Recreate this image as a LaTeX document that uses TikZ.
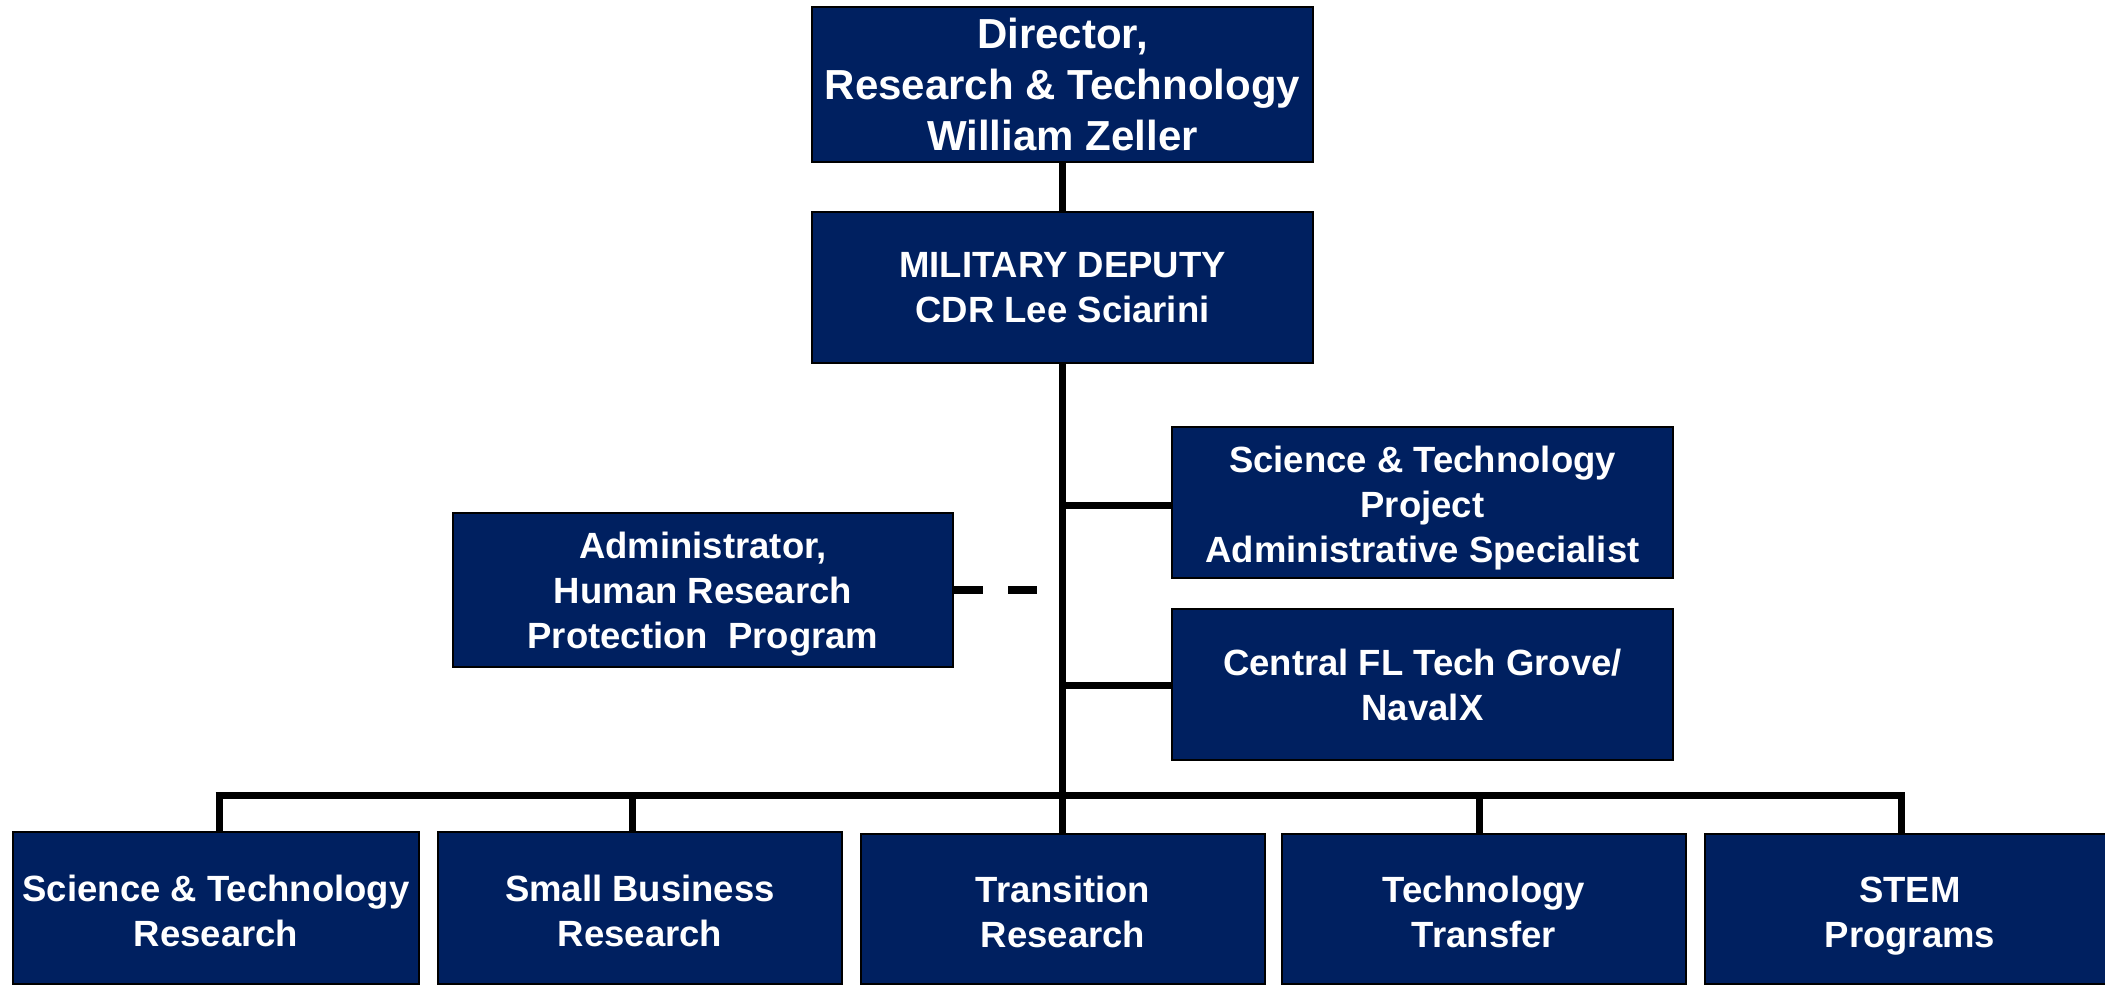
\documentclass[tikz,border=0pt]{standalone}
\usepackage{fontspec}
\setmainfont{Liberation Sans}
\definecolor{navybox}{RGB}{0,32,96}
\newcommand\firstup{\rule{0pt}{32pt}}
\begin{document}
\begin{tikzpicture}[x=1pt,y=-1pt,
  box/.style={rectangle, draw=black, line width=2.5pt, fill=navybox, text=white,
    align=center, inner sep=0pt, font=\bfseries\fontsize{36.5}{45}\selectfont},
  conn/.style={line width=7pt, draw=black}]
\clip (0,0) rectangle (2105,986);
\fill[white] (0,0) rectangle (2105,986);
% top chain
\node[box, minimum width=501pt, minimum height=155pt, font=\bfseries\fontsize{42}{51}\selectfont] (dir) at (1062.5,84.5) {Director,\\Research \& Technology\\William Zeller};
\node[box, minimum width=501pt, minimum height=151pt] (mil) at (1062.5,287.5) {MILITARY DEPUTY\\CDR Lee Sciarini};
\node[box, minimum width=501pt, minimum height=151pt] (stp) at (1422.5,502.5) {\rule{0pt}{29pt}Science \& Technology\\Project\\\smash{Administrative Specialist}};
\node[box, minimum width=501pt, minimum height=151pt] (cfl) at (1422.5,684.5) {Central FL Tech Grove/\\NavalX};
\node[box, minimum width=500pt, minimum height=154pt] (adm) at (703,590) {Administrator,\\Human Research\\\smash{Protection\ \ Program}};
% bottom row
\node[box, minimum width=406pt, minimum height=152pt] (b1) at (216,908) {\firstup Science \& Technology\\Research};
\node[box, minimum width=404pt, minimum height=152pt] (b2) at (640,908) {\firstup Small Business\\Research};
\node[box, minimum width=404pt, minimum height=150pt] (b3) at (1063,909) {\firstup Transition\\Research};
\node[box, minimum width=404pt, minimum height=150pt] (b4) at (1484,909) {\firstup Technology\\Transfer};
\node[box, minimum width=410pt, minimum height=150pt] (b5) at (1910,909) {\firstup STEM\\\smash{Programs}};
% connectors
\coordinate (j1) at (1062,505);
\coordinate (j2) at (1062,685);
\coordinate (busL) at (215.5,795);
\coordinate (busR) at (1904.5,795);
\coordinate (d1) at (219,795);
\coordinate (d2) at (632,795);
\coordinate (d4) at (1479,795);
\coordinate (d5) at (1901,795);
\coordinate (dashend) at (1040,590);
\draw[conn] (dir.south -| j1) -- (mil.north -| j1);
\draw[conn] (mil.south -| j1) -- (b3.north -| j1);
\draw[conn] (j1) -- (j1 -| stp.west);
\draw[conn] (j2) -- (j2 -| cfl.west);
\draw[conn] (busL) -- (busR);
\draw[conn] (d1) -- (d1 |- b1.north);
\draw[conn] (d2) -- (d2 |- b2.north);
\draw[conn] (d4) -- (d4 |- b4.north);
\draw[conn] (d5) -- (d5 |- b5.north);
\draw[conn, line width=8pt, dash pattern=on 29pt off 25pt] (adm.east) -- (dashend);
\end{tikzpicture}
\end{document}
